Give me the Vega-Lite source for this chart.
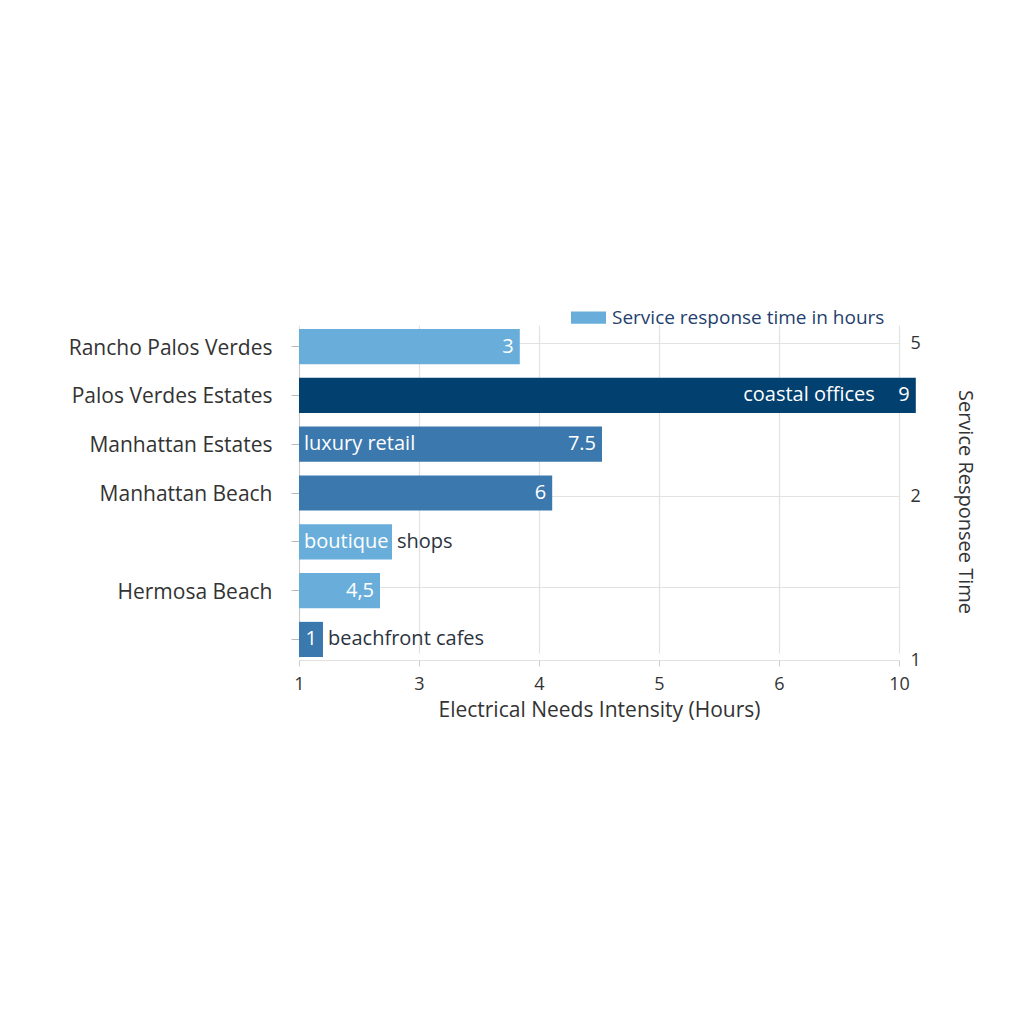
{
  "$schema": "https://vega.github.io/schema/vega-lite/v6.json",
  "autosize": "none",
  "width": 600,
  "height": 338,
  "padding": {"left": 299, "top": 322, "right": 125, "bottom": 364},
  "background": "#ffffff",
  "config": {
    "font": "Open Sans",
    "view": {"stroke": null}
  },
  "data": {
    "values": [
      {"region": "Rancho Palos Verdes", "intensity": 3.84, "label": "3", "tier": "Service response time in hours", "note_start": "", "note_end": "", "note_after": ""},
      {"region": "Palos Verdes Estates", "intensity": 10.56, "label": "9", "tier": "peak", "note_start": "", "note_end": "coastal offices", "note_after": ""},
      {"region": "Manhattan Estates", "intensity": 4.525, "label": "7.5", "tier": "high", "note_start": "luxury retail", "note_end": "", "note_after": ""},
      {"region": "Manhattan Beach", "intensity": 4.11, "label": "6", "tier": "high", "note_start": "", "note_end": "", "note_after": ""},
      {"region": " ", "intensity": 2.55, "label": "", "tier": "Service response time in hours", "note_start": "boutique", "note_end": "", "note_after": "shops"},
      {"region": "Hermosa Beach", "intensity": 2.35, "label": "4,5", "tier": "Service response time in hours", "note_start": "", "note_end": "", "note_after": ""},
      {"region": "  ", "intensity": 1.4, "label": "1", "tier": "high", "note_start": "", "note_end": "", "note_after": "beachfront cafes"}
    ]
  },
  "layer": [
    {
      "mark": {"type": "rule", "opacity": 0},
      "encoding": {
        "y": {
          "datum": 1,
          "type": "quantitative",
          "scale": {"domain": [1, 2, 5], "range": [338, 174, 21], "nice": false, "zero": false},
          "axis": {
            "orient": "right",
            "values": [1, 1.445, 2, 5],
            "labelExpr": "datum.value == 1.445 ? '' : datum.label",
            "grid": true,
            "gridColor": "#e2e2e2",
            "gridWidth": 1.2,
            "ticks": false,
            "domain": false,
            "labelPadding": 11,
            "labelFontSize": 18,
            "labelColor": "#333333",
            "title": "Service Responsee Time",
            "titleAngle": 90,
            "titleFontSize": 20,
            "titleFontWeight": "normal",
            "titleColor": "#333333",
            "titlePadding": 34
          }
        }
      }
    },
    {
      "layer": [
        {
          "mark": {"type": "bar"},
          "encoding": {
            "y": {
              "field": "region",
              "type": "nominal",
              "sort": ["Rancho Palos Verdes", "Palos Verdes Estates", "Manhattan Estates", "Manhattan Beach", " ", "Hermosa Beach", "  "],
              "scale": {"range": [7, 335], "paddingInner": 0.28, "paddingOuter": 0},
              "axis": {
                "title": null,
                "labelFontSize": 21,
                "labelLimit": 400,
                "labelColor": "#333333",
                "labelPadding": 19,
                "labelOffset": 2,
                "tickSize": 8,
                "tickColor": "#bbbbbb",
                "domainColor": "#c8c8c8",
                "grid": false
              }
            },
            "x": {
              "field": "intensity",
              "type": "quantitative",
              "scale": {"domain": [1, 3, 4, 5, 6, 10], "range": [0, 120, 240, 360, 480, 600], "nice": false, "zero": false},
              "axis": {
                "values": [1, 3, 4, 5, 6, 10],
                "format": "d",
                "grid": true,
                "gridColor": "#e2e2e2",
                "gridWidth": 1.2,
                "tickColor": "#cccccc",
                "tickSize": 6,
                "domain": false,
                "labelFlush": false,
                "labelFontSize": 18,
                "labelColor": "#333333",
                "labelPadding": 9,
                "title": "Electrical Needs Intensity (Hours)",
                "titleFontSize": 21,
                "titleFontWeight": "normal",
                "titleColor": "#333333",
                "titlePadding": 6
              }
            },
            "x2": {"datum": 1},
            "color": {
              "field": "tier",
              "type": "nominal",
              "scale": {"domain": ["Service response time in hours", "peak", "high"], "range": ["#69aedb", "#02406f", "#3a78ad"]},
              "legend": {
                "values": ["Service response time in hours"],
                "title": null,
                "orient": "none",
                "legendX": 272,
                "legendY": -22,
                "symbolType": "M-1,-0.35L1,-0.35L1,0.35L-1,0.35Z",
                "symbolSize": 1225,
                "symbolStrokeWidth": 0,
                "symbolOpacity": 1,
                "labelFontSize": 19,
                "labelLimit": 400,
                "labelColor": "#1f3f6e",
                "labelOffset": 6
              }
            }
          }
        },
        {
          "mark": {"type": "text", "align": "right", "baseline": "middle", "dx": -6, "fontSize": 20, "color": "#ffffff"},
          "encoding": {
            "y": {"field": "region", "type": "nominal", "sort": ["Rancho Palos Verdes", "Palos Verdes Estates", "Manhattan Estates", "Manhattan Beach", " ", "Hermosa Beach", "  "]},
            "x": {"field": "intensity", "type": "quantitative"},
            "text": {"field": "label"}
          }
        },
        {
          "mark": {"type": "text", "align": "right", "baseline": "middle", "dx": -41, "fontSize": 20, "color": "#ffffff"},
          "encoding": {
            "y": {"field": "region", "type": "nominal", "sort": ["Rancho Palos Verdes", "Palos Verdes Estates", "Manhattan Estates", "Manhattan Beach", " ", "Hermosa Beach", "  "]},
            "x": {"field": "intensity", "type": "quantitative"},
            "text": {"field": "note_end"}
          }
        },
        {
          "mark": {"type": "text", "align": "left", "baseline": "middle", "dx": 5, "fontSize": 20, "color": "#ffffff"},
          "encoding": {
            "y": {"field": "region", "type": "nominal", "sort": ["Rancho Palos Verdes", "Palos Verdes Estates", "Manhattan Estates", "Manhattan Beach", " ", "Hermosa Beach", "  "]},
            "x": {"datum": 1},
            "text": {"field": "note_start"}
          }
        },
        {
          "mark": {"type": "text", "align": "left", "baseline": "middle", "dx": 5, "fontSize": 20, "color": "#2b3440"},
          "encoding": {
            "y": {"field": "region", "type": "nominal", "sort": ["Rancho Palos Verdes", "Palos Verdes Estates", "Manhattan Estates", "Manhattan Beach", " ", "Hermosa Beach", "  "]},
            "x": {"field": "intensity", "type": "quantitative"},
            "text": {"field": "note_after"}
          }
        }
      ]
    }
  ],
  "resolve": {"scale": {"y": "independent"}, "axis": {"y": "independent"}}
}
